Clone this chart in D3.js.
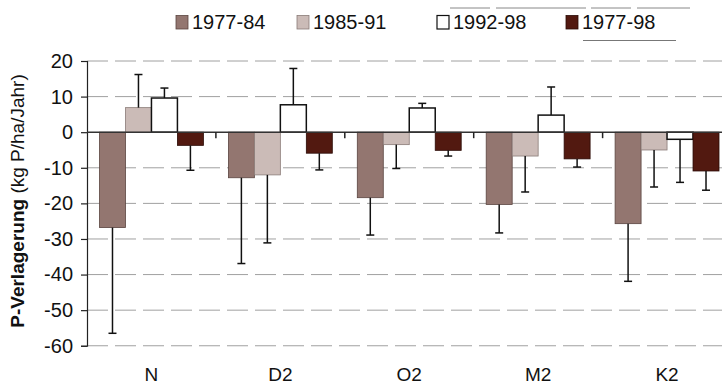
<!DOCTYPE html>
<html>
<head>
<meta charset="utf-8">
<script src="https://cdn.jsdelivr.net/npm/d3@7"></script>
<style>
  html, body { margin: 0; padding: 0; background: #fff; }
  svg { display: block; }
  text { font-family: "Liberation Sans", Arial, Helvetica, sans-serif; fill: #111; }
</style>
</head>
<body>
<svg id="chart" width="722" height="385"></svg>
<script>
// ---- data ----
const categories = ["N", "D2", "O2", "M2", "K2"];
const seriesNames = ["1977-84", "1985-91", "1992-98", "1977-98"];
const values1977_84 = [-26.8, -12.8, -18.4, -20.3, -25.7];
const values1985_91 = [6.9, -12.0, -3.5, -6.7, -5.0];
const values1992_98 = [9.6, 7.7, 6.8, 4.8, -2.0];
const values1977_98 = [-3.7, -5.9, -5.1, -7.5, -10.9];
const err1977_84 = [29.7, 24.1, 10.5, 8.0, 16.2];
const err1985_91 = [9.3, 19.1, 6.7, 10.1, 10.4];
const err1992_98 = [2.8, 10.2, 1.3, 7.9, 12.1];
const err1977_98 = [7.0, 4.7, 1.6, 2.3, 5.4];
const yTicks = [20, 10, 0, -10, -20, -30, -40, -50, -60];
const yTitleBold = "P-Verlagerung";
const yTitleRest = " (kg P/ha/Jahr)";

const seriesValues = [values1977_84, values1985_91, values1992_98, values1977_98];
const seriesErrors = [err1977_84, err1985_91, err1992_98, err1977_98];
const colors = ["#937670", "#cbbbb7", "#ffffff", "#521910"];
const strokes = ["#5a4540", "#8a7c78", "#111111", "#2a0a06"];

const svg = d3.select("#chart");

// ---- scales ----
const axisX = 87;
const bandW = 128.9;
const y = d3.scaleLinear().domain([-60, 20]).range([345.75, 61]);
const x0 = d3.scaleBand().domain(categories).range([axisX, axisX + bandW * categories.length]).paddingInner(0).paddingOuter(0);
const x1 = d3.scaleBand().domain(seriesNames).range([12.5, bandW - 12.5]).padding(0);

// ---- gridlines ----
svg.append("g").selectAll("line")
  .data(yTicks.filter(d => d !== 0))
  .join("line")
  .attr("x1", axisX).attr("x2", 722)
  .attr("y1", d => y(d)).attr("y2", d => y(d))
  .attr("stroke", "#a0a0a0")
  .attr("stroke-width", 1)
  .attr("stroke-dasharray", "21,7");

// ---- y axis ----
const yAxis = d3.axisLeft(y).tickValues(yTicks).tickSize(6).tickPadding(8).tickFormat(d => String(d));
const gy = svg.append("g").attr("transform", `translate(${axisX},0)`).call(yAxis);
gy.select(".domain").attr("stroke", "#222").attr("stroke-width", 1.2);
gy.selectAll(".tick line").attr("stroke", "#222").attr("stroke-width", 1.2);
gy.selectAll(".tick text").style("font-size", "20px").attr("fill", "#111")
  .style("font-family", "'Liberation Sans', Arial, sans-serif");

// ---- bars ----
const rows = [];
categories.forEach((c, i) => {
  seriesNames.forEach((s, j) => {
    rows.push({ cat: c, s: s, j: j, v: seriesValues[j][i], e: seriesErrors[j][i] });
  });
});

const gBars = svg.append("g");
gBars.selectAll("rect")
  .data(rows)
  .join("rect")
  .attr("x", d => x0(d.cat) + x1(d.s))
  .attr("width", x1.bandwidth())
  .attr("y", d => Math.min(y(d.v), y(0)))
  .attr("height", d => Math.abs(y(d.v) - y(0)))
  .attr("fill", d => colors[d.j])
  .attr("stroke", d => strokes[d.j])
  .attr("stroke-width", d => d.j === 2 ? 1.5 : 0.8);

// ---- zero line ----
svg.append("line")
  .attr("x1", axisX).attr("x2", 722)
  .attr("y1", y(0)).attr("y2", y(0))
  .attr("stroke", "#333").attr("stroke-width", 1.5);

// ---- category separator ticks ----
svg.append("g").selectAll("line")
  .data(categories.slice(1))
  .join("line")
  .attr("x1", d => x0(d)).attr("x2", d => x0(d))
  .attr("y1", y(0)).attr("y2", y(0) + 6)
  .attr("stroke", "#222").attr("stroke-width", 1.5);

// ---- error bars ----
const gErr = svg.append("g");
rows.forEach(d => {
  const cx = x0(d.cat) + x1(d.s) + x1.bandwidth() / 2;
  const end = d.v >= 0 ? d.v + d.e : d.v - d.e;
  gErr.append("line")
    .attr("x1", cx).attr("x2", cx)
    .attr("y1", y(d.v)).attr("y2", y(end))
    .attr("stroke", "#111").attr("stroke-width", 1.5);
  gErr.append("line")
    .attr("x1", cx - 4).attr("x2", cx + 4)
    .attr("y1", y(end)).attr("y2", y(end))
    .attr("stroke", "#111").attr("stroke-width", 1.5);
});

// ---- x labels ----
svg.append("g").selectAll("text")
  .data(categories)
  .join("text")
  .attr("x", d => x0(d) + x0.bandwidth() / 2)
  .attr("y", 381)
  .attr("text-anchor", "middle")
  .style("font-size", "19px")
  .text(d => d);

// ---- y title ----
const title = svg.append("text")
  .attr("transform", "translate(24,201) rotate(-90)")
  .attr("text-anchor", "middle")
  .style("font-size", "19px");
title.append("tspan").attr("font-weight", "bold").text(yTitleBold);
title.append("tspan").text(yTitleRest);

// ---- legend ----
const legendX = [176, 297, 437, 566];
const gLeg = svg.append("g");
seriesNames.forEach((s, j) => {
  gLeg.append("rect")
    .attr("x", legendX[j]).attr("y", 15.5)
    .attr("width", 12).attr("height", 13.5)
    .attr("fill", colors[j])
    .attr("stroke", j === 2 ? "#111" : strokes[j])
    .attr("stroke-width", j === 2 ? 1.2 : 0.8);
  gLeg.append("text")
    .attr("x", legendX[j] + 16).attr("y", 29)
    .style("font-size", "20px")
    .text(s);
});
// faint remnants of legend frame
gLeg.append("line").attr("x1", 450).attr("x2", 690).attr("y1", 8).attr("y2", 8)
  .attr("stroke", "#888").attr("stroke-width", 1).attr("stroke-dasharray", "40,6,90,5");
gLeg.append("line").attr("x1", 583).attr("x2", 676).attr("y1", 40.5).attr("y2", 40.5)
  .attr("stroke", "#777").attr("stroke-width", 1);
</script>
</body>
</html>
